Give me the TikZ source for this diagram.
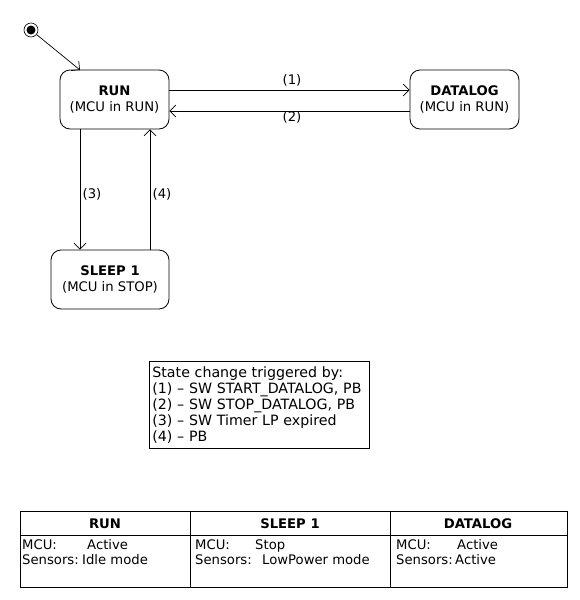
\documentclass[tikz,border=0pt]{standalone}
\usepackage{fontspec}
\setmainfont{DejaVu Sans}
\usetikzlibrary{arrows.meta}
\begin{document}
\begin{tikzpicture}[x=1pt,y=-1pt,
  every node/.style={font=\fontsize{13.2}{16}\selectfont, inner sep=0pt},
  state/.style={draw, line width=0.8pt, rounded corners=10pt, align=center},
  tr/.style={line width=0.7pt, -{Straight Barb[length=6pt,width=12pt]}},
  lbl/.style={font=\fontsize{13.2}{16}\selectfont},
  cell/.style={anchor=base west, font=\fontsize{13.2}{16}\selectfont},
  hdr/.style={anchor=base, font=\bfseries\fontsize{13.2}{16}\selectfont},
  tbl/.style={line width=0.8pt}]
\useasboundingbox (0,0) rectangle (580,600);
% initial state
\node[circle, draw, line width=0.6pt, minimum size=14pt] (init) at (31,30) {};
\node[circle, fill=black, minimum size=9pt] at (31,30) {};
% states
\node[state, minimum width=109pt, minimum height=59pt] (run) at (114.5,99.5) {\textbf{RUN}\\(MCU in RUN)};
\node[state, minimum width=109pt, minimum height=59pt] (dlog) at (464.5,99.5) {\textbf{DATALOG}\\(MCU in RUN)};
\node[state, minimum width=118pt, minimum height=59pt] (sleep) at (110,279.5) {\textbf{SLEEP 1}\\(MCU in STOP)};
% transitions
\coordinate (runtl) at (80,70);
\draw[tr] (init) -- (runtl);
\draw[tr] (run.east |- 0,90) -- (dlog.west |- 0,90);
\draw[tr] (dlog.west |- 0,111) -- (run.east |- 0,111);
\draw[tr] (run.south -| 80,0) -- (sleep.north -| 80,0);
\draw[tr] (sleep.north -| 150,0) -- (run.south -| 150,0);
\node[lbl] (l1) at (292,80) {(1)};
\node[lbl] (l2) at (292,117) {(2)};
\node[lbl] (l3) at (92,194) {(3)};
\node[lbl] (l4) at (162,194) {(4)};
% legend
\node[draw, line width=0.8pt, anchor=north west, align=left, inner xsep=3pt, inner ysep=2pt,
  font=\fontsize{14.2}{16}\selectfont, minimum width=220pt, minimum height=87pt, text width=214pt] (legend) at (149,361)
  {State change triggered by:\\(1) -- SW START\_DATALOG, PB\\(2) -- SW STOP\_DATALOG, PB\\(3) -- SW Timer LP expired\\(4) -- PB};
% table
\draw[tbl] (20,511) rectangle (567,587);
\draw[tbl] (20,535) -- (567,535);
\draw[tbl] (190,511) -- (190,587);
\draw[tbl] (390,511) -- (390,587);
\node[hdr] (h1) at (105,528) {RUN};
\node[hdr] (h2) at (290,528) {SLEEP 1};
\node[hdr] (h3) at (478,528) {DATALOG};
\node[cell] (a1) at (22,549) {MCU:};
\node[cell] (a2) at (87,549) {Active};
\node[cell] (a3) at (22,564) {Sensors:};
\node[cell] (a4) at (82,564) {Idle mode};
\node[cell] (b1) at (195,549) {MCU:};
\node[cell] (b2) at (255,549) {Stop};
\node[cell] (b3) at (195,564) {Sensors:};
\node[cell] (b4) at (262,564) {LowPower mode};
\node[cell] (c1) at (396,549) {MCU:};
\node[cell] (c2) at (457,549) {Active};
\node[cell] (c3) at (396,564) {Sensors:};
\node[cell] (c4) at (455,564) {Active};
\end{tikzpicture}
\end{document}
